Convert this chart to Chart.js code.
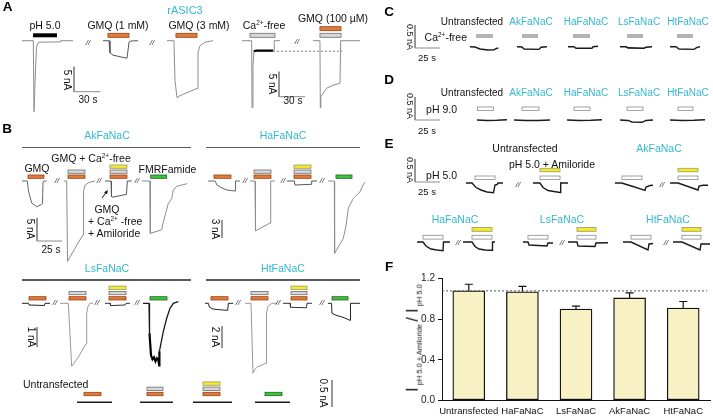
<!DOCTYPE html>
<html lang="en">
<head>
<meta charset="UTF-8">
<title>rASIC3 / FaNaC currents</title>
<script src="https://cdn.jsdelivr.net/npm/chart.js"></script>
<style>
  body { margin: 0; background: #fff; }
  #fig { position: relative; width: 713px; height: 419px; overflow: hidden; font-family: 'Liberation Sans', Arial, sans-serif; }
  #fig canvas { position: absolute; }
  .rule { position: absolute; height: 1.4px; background: #5a5a5a; }
</style>
</head>
<body>
<div id="fig">
  <canvas id="traces" width="713" height="419" style="left:0;top:0"></canvas>
  <canvas id="ratio" width="313" height="151" style="left:400px;top:268px"></canvas>
  <div id="labels"></div>
</div>

<script>
// ---- data: time in s, current in nA (inward = negative) ----

// A: rASIC3
const aPh5    = [[0,0],[13.0,0],[13.8,-14.2],[15.5,-6],[16.7,-1.2],[19.0,-0.3],[43.7,-0.24],[44.5,0],[58.6,0]];
const aGmq1   = [[0,0],[6.9,0],[8.0,-2.4],[11.5,-2.9],[27.6,-3.5],[28.7,-3.5],[29.9,-0.3],[32.2,-0.06],[40.2,0]];
const aGmq3   = [[0,0],[8.0,0],[9.2,-8],[11.5,-11.4],[14.9,-11],[23.0,-10.4],[32.2,-9.7],[34.5,-9.6],[35.6,-2.4],[37.9,-1],[43.7,-0.3],[52.9,0]];
const aCaFree = [[0,0],[11.1,0],[11.5,-13.4],[12.6,-5],[13.8,-2.1],[16.1,-2],[35.6,-2],[36.8,-1.9],[37.1,0],[43.7,0]];
const aGmq100 = [[0,0],[8.0,0],[8.4,-13.4],[9.0,-11.2],[15.7,-9.5],[23.3,-8.9],[31.0,-8.5],[31.8,0],[54.0,0]];
const aCaLevel = -2.1;

// B: FaNaCs, GMQ / GMQ + Ca-free / + amiloride / FMRFamide
const akGmq       = [[0,0],[5.3,0],[6.5,-2.2],[9.7,-4.8],[14.7,-5.6],[19.7,-5.1],[20.5,-4.9],[21,-0.2],[22,0],[24.7,0]];
const akGmqCa     = [[0,0],[2.7,0],[3.5,-17.5],[11,-14.6],[19,-11.7],[19.3,-11.7],[19.8,-2.2],[21,-0.9],[25,-0.3],[31,0]];
const akGmqCaAmil = [[0,0],[6,0],[6.5,-3.4],[8,-3.5],[21.5,-2.9],[22.3,0],[26.7,0]];
const akFmrf      = [[0,0],[8.3,0],[8.6,-11.4],[20,-10.6],[21.6,-8.9],[26.6,-4.9],[30,-3.8],[31.6,-2.0],[35,-1.15],[45.6,-0.57]];

const haGmq       = [[0,0],[7,0],[9,-0.67],[14,-1.17],[19,-1.5],[27,-1.67],[27.5,0],[32,0]];
const haGmqCa     = [[0,0],[5,0],[5.5,-8.3],[10,-7.9],[20,-7.0],[20.7,0],[25,0]];
const haGmqCaAmil = [[0,0],[7.3,0],[8,-0.67],[24,-0.55],[24.7,0],[30,0]];
const haFmrf      = [[0,0],[6.3,0],[6.6,-12.05],[15.3,-9.55],[18,-7.5],[20.3,-4.55],[25.3,-2.9],[32,-1.8],[35,-0.67],[37,-0.17]];

const lsGmq       = [[0,0],[6.5,0],[7,-0.085],[22.5,-0.11],[23,0],[28,0]];
const lsGmqCa     = [[0,0],[8.3,0],[11.7,-3.15],[18.3,-2.69],[26,-2.02],[26.7,-0.5],[28,-0.15],[30,0],[33,0]];
const lsGmqCaAmil = [[0,0],[5,0],[5.5,-0.115],[20,-0.085],[21,0],[25,0]];
const lsFmrf      = [[0,0],[6,0],[6.5,-1.5],[8,-2.6],[9.5,-2.8],[11,-2.7],[12.5,-2.9],[14,-2.75],[15.5,-2.85],[16.2,-3.1],[16.4,-2.4],[20.3,-1.42],[23.7,-0.75],[27,-0.25],[30.3,0],[35.3,0.08]];

const htGmq       = [[0,0],[3.3,0],[4.5,-0.36],[8,-0.52],[15,-0.59],[22.7,-0.64],[23.3,0],[28.3,0]];
const htGmqCa     = [[0,0],[6,0],[8,-6.36],[10,-6.0],[12,-5.8],[21,-5.45],[21.5,-0.9],[23,-0.27],[27,0],[32,0]];
const htGmqCaAmil = [[0,0],[7,0],[7.5,-0.36],[23.5,-0.41],[24,0],[29,0]];
const htFmrf      = [[0,0],[3.5,0],[4,-0.91],[8,-1.09],[15,-1.27],[22,-1.55],[22.5,0],[32,0]];

const unGmq       = [[0,0],[35,0]];
const unGmqCa     = [[0,0],[33,0]];
const unGmqCaAmil = [[0,0],[39,0]];
const unFmrf      = [[0,0],[35,0]];

// C: Ca-free
const cUntr = [[0,0],[5,-0.007],[10,-0.05],[18,-0.072],[24,-0.065],[27,-0.033],[28.3,-0.035]];
const cAk   = [[0,0],[5,-0.007],[7,-0.05],[22,-0.059],[24,-0.011],[30,0]];
const cHa   = [[0,0],[6,0],[8,-0.033],[24,-0.033],[25,0],[30,0.011]];
const cLs   = [[0,0],[6,0],[8,-0.026],[24,-0.033],[26,-0.011],[32,0]];
const cHt   = [[0,0],[6,0],[9,-0.05],[24,-0.059],[27,-0.015],[30,0]];

// D: pH 9.0
const dUntr = [[0,0],[10,-0.01],[20,-0.007],[30,0.007]];
const dAk   = [[0,0],[12,-0.01],[24,-0.01],[36,0]];
const dHa   = [[0,0],[12,-0.01],[24,-0.005],[35,0.007]];
const dLs   = [[0,0],[8,-0.01],[12,-0.043],[22,-0.05],[26,-0.01],[33,0]];
const dHt   = [[0,0],[12,-0.01],[24,-0.005],[35,0.007]];

// E: pH 5.0 and pH 5.0 + amiloride
const eUntrPh5  = [[0,0],[6,0],[10,-0.098],[15,-0.152],[21,-0.196],[27.5,-0.211],[29,-0.043],[31,-0.033],[32,0],[37,0]];
const eUntrAmil = [[0,0],[7,0],[10,-0.098],[15,-0.163],[24,-0.196],[27,-0.207],[27.7,0],[35,0]];
const eAkPh5    = [[0,0],[6.7,0],[18,-0.076],[30,-0.159],[31,-0.087],[35,-0.054],[38,-0.05]];
const eAkAmil   = [[0,0],[8,0],[28,-0.152],[29,-0.065],[33,-0.05],[38,-0.05]];
const eHaPh5    = [[0,0],[6,0],[9,-0.087],[14,-0.152],[20,-0.174],[26,-0.189],[26.5,0],[33,0]];
const eHaAmil   = [[0,0],[9,0],[12,-0.098],[16,-0.152],[22,-0.174],[29,-0.18],[29.5,0],[32,0]];
const eLsPh5    = [[0,0],[5,0],[6,-0.065],[24,-0.087],[25,-0.022],[30,-0.022]];
const eLsAmil   = [[0,0],[9,0],[10,-0.087],[27,-0.098],[28,-0.022],[40,-0.015]];
const eHtPh5    = [[0,0],[8,0],[25,-0.174],[26,-0.043],[30,-0.033]];
const eHtAmil   = [[0,0],[9,0],[27,-0.174],[28,-0.043],[37,-0.043]];

// F: I(pH 5.0 + amiloride) / I(pH 5.0)
const fGroups = ['Untransfected', 'HaFaNaC', 'LsFaNaC', 'AkFaNaC', 'HtFaNaC'];
const fRatio  = [1.08, 1.07, 0.90, 1.01, 0.91];
const fSem    = [0.065, 0.055, 0.03, 0.05, 0.065];
const fTicks  = [0, 0.4, 0.8, 1.2];

// ---- layout: where each recording sits (px), px per s, px per nA ----
const panels = {
  A:  { y0: 40.7,  sx: 0.87, sy: 5,   barY: 33.3,  step: 6.6, barH: 4 },
  Ak: { y0: 181,   sx: 1,    sy: 4.6, barY: 175,   step: 5,   barH: 3.3 },
  Ha: { y0: 181,   sx: 1,    sy: 6,   barY: 175,   step: 5,   barH: 3.3 },
  Ls: { y0: 303.3, sx: 1,    sy: 20,  barY: 296.7, step: 5.3, barH: 3.3 },
  Ht: { y0: 303.3, sx: 1,    sy: 11,  barY: 296.7, step: 5.3, barH: 3.3 },
  Un: { y0: 402.3, sx: 1,    sy: 54,  barY: 392.3, step: 5.2, barH: 3.4 },
  C:  { y0: 46.7,  sx: 1,    sy: 46,  barY: 34,    step: 0,   barH: 4 },
  D:  { y0: 120,   sx: 1,    sy: 46,  barY: 107,   step: 0,   barH: 3.5 },
  E1: { y0: 183,   sx: 1,    sy: 46,  barY: 176,   step: 7.7, barH: 3.5 },
  E2: { y0: 242,   sx: 1,    sy: 46,  barY: 235.3, step: 7.8, barH: 3.8 }
};

const G = '#8c8c8c', K = '#1a1a1a';
const traces = [
  { p: 'A', x0: 22,  d: aPh5,    c: G, stim: [['black', 12.6, 40.2, 0]] },
  { p: 'A', x0: 103, d: aGmq1,   c: '#555', stim: [['orange', 5.7, 29.9, 0]] },
  { p: 'A', x0: 167, d: aGmq3,   c: G, stim: [['orange', 10.3, 34.5, 0]] },
  { p: 'A', x0: 242, d: aCaFree, c: G, dark: [4, 6], stim: [['gray', 9.2, 37.9, 0]] },
  { p: 'A', x0: 313, d: aGmq100, c: G, stim: [['gray', 8, 32.2, 0], ['orange', 8, 32.2, 1]] },

  { p: 'Ak', x0: 22,    d: akGmq,       c: '#666', stim: [['orange', 6, 22, 0]] },
  { p: 'Ak', x0: 64,    d: akGmqCa,     c: G, stim: [['orange', 4, 21, 0], ['gray', 4, 21, 1]] },
  { p: 'Ak', x0: 105,   d: akGmqCaAmil, c: '#555', stim: [['orange', 5, 22, 0], ['gray', 5, 22, 1], ['yellow', 5, 22, 2]] },
  { p: 'Ak', x0: 141.7, d: akFmrf,      c: G, stim: [['green', 9, 25, 0]] },

  { p: 'Ha', x0: 208, d: haGmq,       c: '#666', stim: [['orange', 6, 23, 0]] },
  { p: 'Ha', x0: 250, d: haGmqCa,     c: G, stim: [['orange', 4, 21, 0], ['gray', 4, 21, 1]] },
  { p: 'Ha', x0: 287, d: haGmqCaAmil, c: '#555', stim: [['orange', 7, 24, 0], ['gray', 7, 24, 1], ['yellow', 7, 24, 2]] },
  { p: 'Ha', x0: 328, d: haFmrf,      c: G, stim: [['green', 8, 24, 0]] },

  { p: 'Ls', x0: 22,  d: lsGmq,       c: '#222', stim: [['orange', 7, 24, 0]] },
  { p: 'Ls', x0: 60,  d: lsGmqCa,     c: '#999', stim: [['orange', 9, 26, 0], ['gray', 9, 26, 1]] },
  { p: 'Ls', x0: 105, d: lsGmqCaAmil, c: '#333', stim: [['orange', 4, 21, 0], ['gray', 4, 21, 1], ['yellow', 4, 21, 2]] },
  { p: 'Ls', x0: 143, d: lsFmrf,      c: K, w: 1.3, dark: [2, 10], stim: [['green', 7, 24, 0]] },

  { p: 'Ht', x0: 205, d: htGmq,       c: '#222', stim: [['orange', 6, 23, 0]] },
  { p: 'Ht', x0: 245, d: htGmqCa,     c: '#999', stim: [['orange', 6, 23, 0], ['gray', 6, 23, 1]] },
  { p: 'Ht', x0: 283, d: htGmqCaAmil, c: '#333', stim: [['orange', 8, 24, 0], ['gray', 8, 24, 1], ['yellow', 8, 24, 2]] },
  { p: 'Ht', x0: 328, d: htFmrf,      c: '#222', stim: [['green', 4, 20, 0]] },

  { p: 'Un', x0: 77,  d: unGmq,       c: K, w: 1.6, stim: [['orange', 7, 24, 0]] },
  { p: 'Un', x0: 140, d: unGmqCa,     c: K, w: 1.6, stim: [['orange', 7, 23, 0], ['gray', 7, 23, 1]] },
  { p: 'Un', x0: 193, d: unGmqCaAmil, c: K, w: 1.6, stim: [['orange', 10, 27, 0], ['gray', 10, 27, 1], ['yellow', 10, 27, 2]] },
  { p: 'Un', x0: 255, d: unFmrf,      c: K, w: 1.6, stim: [['green', 10, 27, 0]] },

  { p: 'C', x0: 470, d: cUntr, c: K, w: 1.4, stim: [['cfill', 6, 23, 0]] },
  { p: 'C', x0: 517, d: cAk,   c: K, w: 1.4, stim: [['cfill', 5, 21, 0]] },
  { p: 'C', x0: 568, d: cHa,   c: K, w: 1.4, stim: [['cfill', 5, 22, 0]] },
  { p: 'C', x0: 620, d: cLs,   c: K, w: 1.6, stim: [['cfill', 7, 23, 0]] },
  { p: 'C', x0: 670, d: cHt,   c: K, w: 1.4, stim: [['cfill', 7, 23, 0]] },

  { p: 'D', x0: 477, d: dUntr, c: K, w: 1.6, stim: [['white', 0.5, 16.5, 0]] },
  { p: 'D', x0: 514, d: dAk,   c: K, w: 1.6, stim: [['white', 8, 25, 0]] },
  { p: 'D', x0: 567, d: dHa,   c: K, w: 1.6, stim: [['white', 7, 23, 0]] },
  { p: 'D', x0: 620, d: dLs,   c: K, w: 1.4, stim: [['white', 7, 23, 0]] },
  { p: 'D', x0: 670, d: dHt,   c: K, w: 1.6, stim: [['white', 8, 23, 0]] },

  { p: 'E1', x0: 466, d: eUntrPh5,  c: K, w: 1.4, stim: [['white', 9, 29, 0]] },
  { p: 'E1', x0: 533, d: eUntrAmil, c: K, w: 1.4, stim: [['white', 7, 27, 0], ['yellow', 7, 27, 1]] },
  { p: 'E1', x0: 615, d: eAkPh5,    c: K, w: 1.4, stim: [['white', 7, 27, 0]] },
  { p: 'E1', x0: 670, d: eAkAmil,   c: K, w: 1.4, stim: [['white', 8, 28, 0], ['yellow', 8, 28, 1]] },
  { p: 'E2', x0: 417, d: eHaPh5,    c: K, w: 1.4, stim: [['white', 6, 26, 0]] },
  { p: 'E2', x0: 463, d: eHaAmil,   c: K, w: 1.4, stim: [['white', 9, 29, 0], ['yellow', 9, 29, 1]] },
  { p: 'E2', x0: 523, d: eLsPh5,    c: K, w: 1.4, stim: [['white', 5, 25, 0]] },
  { p: 'E2', x0: 568, d: eLsAmil,   c: K, w: 1.4, stim: [['white', 9, 28, 0], ['yellow', 9, 28, 1]] },
  { p: 'E2', x0: 623, d: eHtPh5,    c: K, w: 1.4, stim: [['white', 8, 28, 0]] },
  { p: 'E2', x0: 673, d: eHtAmil,   c: K, w: 1.4, stim: [['white', 9, 28, 0], ['yellow', 9, 28, 1]] }
];

// scale bars: corner position, size in nA and s
const scaleBars = [
  { p: 'A',  x0: 74,  y: 91.7, nA: 5,   s: 30 },
  { p: 'A',  x0: 279, y: 96.7, nA: 5,   s: 30 },
  { p: 'Ak', x0: 37,  y: 241,  nA: 5,   s: 25 },
  { p: 'Ha', x0: 222, y: 238,  nA: 3,   s: 0 },
  { p: 'Ls', x0: 37,  y: 347,  nA: 1,   s: 0 },
  { p: 'Ht', x0: 222, y: 348,  nA: 2,   s: 0 },
  { p: 'Un', x0: 332, y: 407,  nA: 0.5, s: 0 },
  { p: 'C',  x0: 415, y: 48,   nA: 0.5, s: 25 },
  { p: 'D',  x0: 415, y: 120,  nA: 0.5, s: 25 },
  { p: 'E1', x0: 415, y: 182,  nA: 0.5, s: 25 }
];

const stimStyle = {
  black:  ['#000000', null],
  orange: ['#e5793a', '#8f4515'],
  gray:   ['#d8d8d8', '#6e6e6e'],
  yellow: ['#f3ea2a', '#9a9a6a'],
  green:  ['#35c935', '#2a5a2a'],
  cfill:  ['#b3b3b3', null],
  white:  ['#ffffff', '#8a8a8a']
};

Chart.defaults.font.family = "'Liberation Sans', Arial, sans-serif";

// ---- traces, drawn on one full-size scatter chart whose axes are the page ----
const traceSets = traces.map(tr => {
  const p = panels[tr.p];
  const set = {
    data: tr.d.map(([t, i]) => ({ x: tr.x0 + t * p.sx, y: p.y0 - i * p.sy })),
    borderColor: tr.c,
    borderWidth: tr.w || 1,
    showLine: true, pointRadius: 0, tension: 0
  };
  if (tr.dark) {
    const [a, b] = tr.dark;
    set.segment = {
      borderColor: ctx => (ctx.p0DataIndex >= a && ctx.p0DataIndex < b) ? '#000' : undefined,
      borderWidth: ctx => (ctx.p0DataIndex >= a && ctx.p0DataIndex < b) ? 2.2 : undefined
    };
  }
  return set;
});

const barSets = scaleBars.map(sb => {
  const p = panels[sb.p];
  const pts = [[0, sb.nA], [0, 0]];
  if (sb.s) pts.push([sb.s, 0]);
  return {
    data: pts.map(([t, i]) => ({ x: sb.x0 + t * p.sx, y: sb.y - i * p.sy })),
    borderColor: '#8a8a8a', borderWidth: 1, showLine: true, pointRadius: 0, tension: 0
  };
});

// dashed Ca-free level in A
const caTrace = traces[3];
const caSet = {
  data: [12.6, 115].map(t => ({ x: caTrace.x0 + t * panels.A.sx, y: panels.A.y0 - aCaLevel * panels.A.sy })),
  borderColor: '#777', borderWidth: 1, borderDash: [2, 2], showLine: true, pointRadius: 0
};

const stimPlugin = {
  id: 'stim',
  afterDatasetsDraw(chart) {
    const { ctx, scales: { x, y } } = chart;
    ctx.save();
    traces.forEach(tr => {
      const p = panels[tr.p];
      tr.stim.forEach(([kind, t0, t1, lvl]) => {
        const [fill, stroke] = stimStyle[kind];
        const x1 = x.getPixelForValue(tr.x0 + t0 * p.sx);
        const x2 = x.getPixelForValue(tr.x0 + t1 * p.sx);
        const top = y.getPixelForValue(p.barY - lvl * p.step);
        ctx.fillStyle = fill;
        ctx.fillRect(x1, top, x2 - x1, p.barH);
        if (stroke) {
          ctx.strokeStyle = stroke; ctx.lineWidth = 0.8;
          ctx.strokeRect(x1, top, x2 - x1, p.barH);
        }
      });
    });
    // arrow pointing at the amiloride trace in B
    ctx.strokeStyle = '#111'; ctx.fillStyle = '#111'; ctx.lineWidth = 1;
    ctx.beginPath(); ctx.moveTo(102, 198); ctx.lineTo(106.5, 192); ctx.stroke();
    ctx.beginPath(); ctx.moveTo(108, 190); ctx.lineTo(104, 192.2); ctx.lineTo(107, 194.3); ctx.closePath(); ctx.fill();
    ctx.restore();
  }
};

new Chart(document.getElementById('traces'), {
  type: 'scatter',
  data: { datasets: [...traceSets, ...barSets, caSet] },
  options: {
    responsive: false, animation: false, devicePixelRatio: 1,
    layout: { padding: 0 },
    plugins: { legend: { display: false }, tooltip: { enabled: false } },
    scales: {
      x: { type: 'linear', min: 0, max: 713, display: false },
      y: { type: 'linear', min: 0, max: 419, reverse: true, display: false }
    }
  },
  plugins: [stimPlugin]
});

// ---- F: bar chart with SEM ----
const errPlugin = {
  id: 'errs',
  afterDatasetsDraw(chart) {
    const { ctx, scales: { y }, chartArea } = chart;
    ctx.save();
    ctx.strokeStyle = '#111'; ctx.lineWidth = 1.2;
    chart.getDatasetMeta(0).data.forEach((bar, i) => {
      const yTop = y.getPixelForValue(fRatio[i] + fSem[i]);
      ctx.beginPath();
      ctx.moveTo(bar.x, bar.y); ctx.lineTo(bar.x, yTop);
      ctx.moveTo(bar.x - 4, yTop); ctx.lineTo(bar.x + 4, yTop);
      ctx.stroke();
    });
    const yd = y.getPixelForValue(fRatio[0]);
    ctx.setLineDash([2, 2]); ctx.strokeStyle = '#555'; ctx.lineWidth = 1;
    ctx.beginPath(); ctx.moveTo(chartArea.left, yd); ctx.lineTo(chartArea.right - 3, yd); ctx.stroke();
    ctx.restore();
  }
};

new Chart(document.getElementById('ratio'), {
  type: 'bar',
  data: {
    labels: fGroups,
    datasets: [{
      data: fRatio,
      backgroundColor: '#f7f1c4', borderColor: '#111', borderWidth: 1.3,
      borderSkipped: false, barThickness: 32
    }]
  },
  options: {
    responsive: false, animation: false, devicePixelRatio: 1,
    layout: { padding: { top: 10.7, right: 3, left: 0, bottom: 0 } },
    plugins: { legend: { display: false }, tooltip: { enabled: false } },
    scales: {
      x: {
        grid: { display: false, drawTicks: false },
        border: { color: '#111', width: 1 },
        ticks: { color: '#111', font: { size: 9.5 }, padding: 5, maxRotation: 0, autoSkip: false },
        afterFit: s => { s.height = 18.7; }
      },
      y: {
        min: 0, max: 1.2,
        afterBuildTicks: s => { s.ticks = fTicks.map(v => ({ value: v })); },
        grid: { drawOnChartArea: false, tickLength: 4, color: '#111' },
        border: { color: '#111', width: 1 },
        ticks: { color: '#222', font: { size: 10 }, padding: 3, callback: v => v.toFixed(1) },
        afterFit: s => { s.width = 42; }
      }
    }
  },
  plugins: [errPlugin]
});

// ---- text ----
const box = document.getElementById('labels');
function lab(html, x, y, o = {}) {
  const el = document.createElement('div');
  el.innerHTML = html;
  const s = el.style;
  s.position = 'absolute'; s.left = x + 'px'; s.top = y + 'px';
  s.whiteSpace = 'nowrap'; s.lineHeight = '1';
  s.fontSize = (o.size || 10.5) + 'px';
  s.color = o.color || '#111';
  if (o.bold) s.fontWeight = 'bold';
  if (o.italic) s.fontStyle = 'italic';
  const ax = o.align === 'left' ? '0' : o.align === 'right' ? '-100%' : '-50%';
  s.transform = `translate(${ax},-50%)` + (o.rot ? ` rotate(${o.rot}deg)` : '');
  box.appendChild(el);
}
function rule(x1, x2, y) {
  const el = document.createElement('div');
  el.className = 'rule';
  el.style.left = x1 + 'px'; el.style.width = (x2 - x1) + 'px'; el.style.top = y + 'px';
  box.appendChild(el);
}
const cyan = '#33b9d0';
const ca = 'Ca<sup style="font-size:0.62em;vertical-align:0.55em">2+</sup>';

['A', 7.5, 6.5, 'B', 7, 128.5, 'C', 389, 12, 'D', 389, 80, 'E', 389, 143.5, 'F', 389, 267]
  .reduce((a, v, i, arr) => (i % 3 === 0 ? a.concat([arr.slice(i, i + 3)]) : a), [])
  .forEach(([t, x, y]) => lab(t, x, y, { size: 13.5, bold: true, color: '#000' }));

// A
lab('rASIC3', 185, 10, { color: cyan, size: 11 });
lab('pH 5.0', 45, 25);
lab('GMQ (1 mM)', 118, 25);
lab('GMQ (3 mM)', 199, 25);
lab(ca + '-free', 264, 25);
lab('GMQ (100 µM)', 333, 18);
lab('5 nA', 67, 80, { rot: 90, size: 10 });
lab('30 s', 88, 100, { size: 10 });
lab('5 nA', 272, 84, { rot: 90, size: 10 });
lab('30 s', 293, 100.5, { size: 10 });

// B
lab('AkFaNaC', 107, 135, { color: cyan });
lab('HaFaNaC', 283, 135, { color: cyan });
lab('LsFaNaC', 107, 268, { color: cyan });
lab('HtFaNaC', 283, 268, { color: cyan });
rule(22, 191, 146.6); rule(206, 360, 146.6);
rule(22, 191, 279.3); rule(206, 360, 279.3);
lab('GMQ', 37, 168);
lab('GMQ + ' + ca + '-free', 91, 157.5);
lab('FMRFamide', 167.5, 169);
lab('GMQ', 107, 209);
lab('+ ' + ca + ' -free', 88, 221, { align: 'left' });
lab('+ Amiloride', 88, 233, { align: 'left' });
lab('5 nA', 30, 229, { rot: 90, size: 10 });
lab('25 s', 51, 250, { size: 10 });
lab('3 nA', 215, 229, { rot: 90, size: 10 });
lab('1 nA', 31, 337, { rot: 90, size: 10 });
lab('2 nA', 215, 337, { rot: 90, size: 10 });
lab('Untransfected', 23, 384, { align: 'left' });
lab('0.5 nA', 323, 393, { rot: 90, size: 10 });

// break marks
[[88, 43], [152, 43], [297, 42],
 [57, 181], [99, 181], [137, 181], [245, 181], [283, 181], [322, 181],
 [55, 303], [97, 303], [137, 303], [238, 303], [278, 303], [322, 303],
 [518, 185], [662, 185], [458, 243], [562, 243], [666, 243]]
  .forEach(([x, y]) => lab('//', x, y, { italic: true, size: 8, color: '#333' }));

// C, D
const cols = [['Untransfected', 472, '#111'], ['AkFaNaC', 531, cyan], ['HaFaNaC', 586, cyan], ['LsFaNaC', 639, cyan], ['HtFaNaC', 688, cyan]];
cols.forEach(([t, x, c]) => { lab(t, x, 22, { color: c, size: 10 }); lab(t, x, 93, { color: c, size: 10 }); });
lab(ca + '-free', 467, 37, { align: 'right' });
lab('pH 9.0', 457, 109, { align: 'right' });
[[37, 58], [106, 131], [170, 192]].forEach(([yn, ys]) => {
  lab('0.5 nA', 409, yn, { rot: 90, size: 9 });
  lab('25 s', 427, ys, { size: 9.5 });
});

// E
lab('Untransfected', 525, 148);
lab('AkFaNaC', 659, 148, { color: cyan });
lab('pH 5.0 + Amiloride', 552, 164);
lab('pH 5.0', 457, 175, { align: 'right' });
lab('HaFaNaC', 455, 219, { color: cyan });
lab('LsFaNaC', 562, 219, { color: cyan });
lab('HtFaNaC', 668, 219, { color: cyan });

// F axis title
lab('<span style="font-size:16px">I</span><span style="font-size:7.5px;vertical-align:-4px"> pH 5.0 + Amiloride </span>' +
    '<span style="font-size:16px">/ I</span><span style="font-size:7.5px;vertical-align:-4px"> pH 5.0</span>',
    414, 338, { rot: -90 });
</script>
</body>
</html>
